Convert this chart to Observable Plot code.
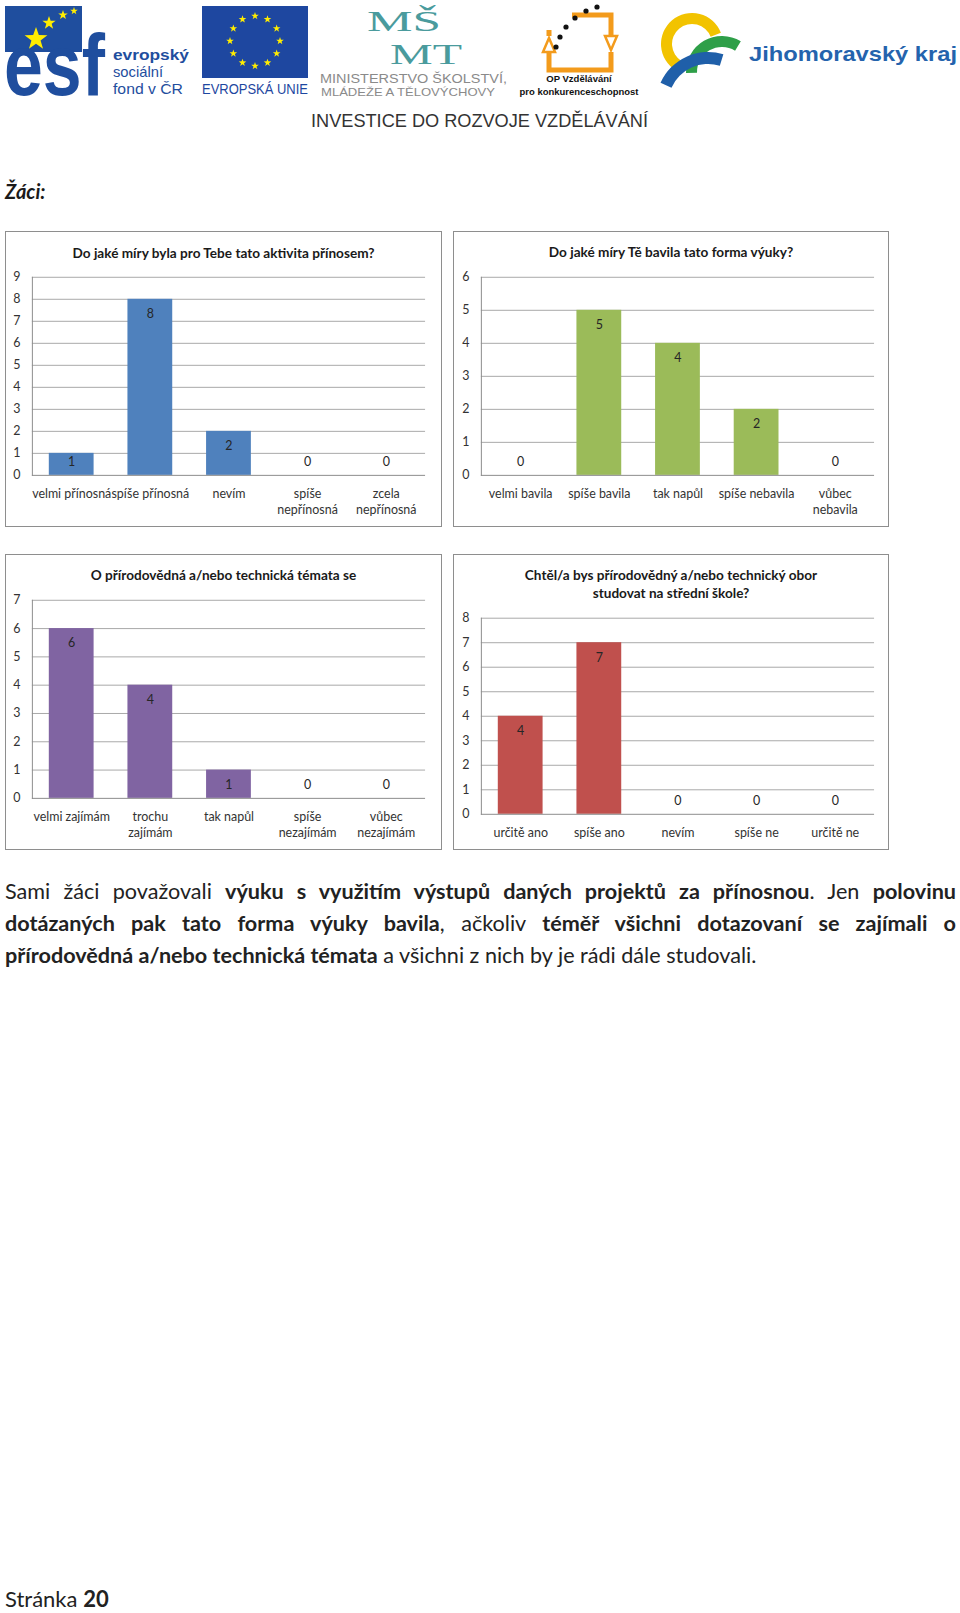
<!DOCTYPE html>
<html><head><meta charset="utf-8">
<script src="https://cdn.jsdelivr.net/npm/d3@7"></script>
<script src="https://cdn.jsdelivr.net/npm/@observablehq/plot@0.6"></script>
<style>
body{margin:0;background:#fff}
#page{position:relative;width:960px;height:1613px;overflow:hidden;font-family:Lato,'Open Sans',sans-serif;color:#1a1a1a;background:#fff}
.chart{position:absolute;box-sizing:border-box;border:1px solid #8e8e8e;background:#fff}
.chart svg{position:absolute;left:-1px;top:-1px}
.ctitle{position:absolute;left:0;right:0;text-align:center;font-weight:bold;font-size:13.6px;color:#1a1a1a;line-height:18px}
.line{position:absolute;left:5px;width:951px;font-size:21.6px;line-height:32px;white-space:nowrap;color:#222}
.just{text-align:justify;text-align-last:justify;white-space:normal}
#header{position:absolute;left:0;top:0}
</style></head>
<body>
<div id="page">
  <svg id="header" width="960" height="140"></svg>
  <div style="position:absolute;left:5px;top:177px;font-size:20px;line-height:28px;font-weight:bold;font-style:italic;">Žáci:</div>
  <div class="chart" id="c1" style="left:5px;top:231px;width:437px;height:296px"><div class="ctitle" style="top:12px">Do jaké míry byla pro Tebe tato aktivita přínosem?</div></div>
  <div class="chart" id="c2" style="left:453px;top:231px;width:436px;height:296px"><div class="ctitle" style="top:11px">Do jaké míry Tě bavila tato forma výuky?</div></div>
  <div class="chart" id="c3" style="left:5px;top:554px;width:437px;height:296px"><div class="ctitle" style="top:11px">O přírodovědná a/nebo technická témata se</div></div>
  <div class="chart" id="c4" style="left:453px;top:554px;width:436px;height:296px"><div class="ctitle" style="top:11px">Chtěl/a bys přírodovědný a/nebo technický obor<br>studovat na střední škole?</div></div>
  <div class="line just" style="top:875px">Sami žáci považovali <b>výuku s&nbsp;využitím výstupů daných projektů za přínosnou</b>. Jen <b>polovinu</b></div>
  <div class="line just" style="top:907px"><b>dotázaných pak tato forma výuky bavila</b>, ačkoliv <b>téměř všichni dotazovaní se zajímali o</b></div>
  <div class="line" style="top:939px"><b>přírodovědná a/nebo technická témata</b> a všichni z nich by je rádi dále studovali.</div>
  <div style="position:absolute;left:5px;top:1588px;font-size:22px;line-height:22px;color:#222">Stránka <b>20</b></div>
</div>
<script>
// ---- data ----
const cats1 = ["velmi přínosná", "spíše přínosná", "nevím", "spíše\nnepřínosná", "zcela\nnepřínosná"];
const vals1 = [1, 8, 2, 0, 0];
const cats2 = ["velmi bavila", "spíše bavila", "tak napůl", "spíše nebavila", "vůbec\nnebavila"];
const vals2 = [0, 5, 4, 2, 0];
const cats3 = ["velmi zajímám", "trochu\nzajímám", "tak napůl", "spíše\nnezajímám", "vůbec\nnezajímám"];
const vals3 = [6, 4, 1, 0, 0];
const cats4 = ["určitě ano", "spíše ano", "nevím", "spíše ne", "určitě ne"];
const vals4 = [4, 7, 0, 0, 0];
const yMax1 = 9, yMax2 = 6, yMax3 = 7, yMax4 = 8;

const FONT = "Lato, 'Open Sans', sans-serif";

function makeChart({id, cats, vals, color, ymax, w, h, ml, mr, mt, mb}) {
  const data = cats.map((c, i) => ({cat: c, val: vals[i]}));
  const unit = (h - mt - mb) / ymax;
  const tall = data.filter(d => d.val * unit >= 30);
  const short = data.filter(d => d.val * unit < 30);
  const ticks = d3.range(0, ymax + 1);
  const chart = Plot.plot({
    width: w, height: h, marginLeft: ml, marginRight: mr, marginTop: mt, marginBottom: mb,
    style: {fontFamily: FONT, fontSize: "12.5px", color: "#333", background: "transparent", overflow: "visible"},
    x: {domain: cats, paddingInner: 0.43, paddingOuter: 0.215, label: null, axis: null},
    y: {domain: [0, ymax], label: null, axis: null},
    marks: [
      Plot.gridY(ticks.slice(1), {stroke: "#a8a8a8", strokeOpacity: 1}),
      Plot.barY(data, {x: "cat", y: "val", fill: color}),
      Plot.ruleY([0], {stroke: "#8c8c8c"}),
      Plot.frame({anchor: "left", stroke: "#8c8c8c"}),
      Plot.text(tall, {x: "cat", y: "val", text: d => String(d.val), dy: 15, fill: "#262626"}),
      Plot.text(short, {x: "cat", y: 0, text: d => String(d.val), dy: -13, fill: "#262626"}),
      Plot.axisX({tickSize: 0, tickPadding: 11, lineHeight: 1.3, fill: "#333"}),
      Plot.axisY(ticks, {tickSize: 0, tickPadding: 12, fill: "#333"})
    ]
  });
  document.getElementById(id).appendChild(chart);
}

makeChart({id: "c1", cats: cats1, vals: vals1, color: "#4F81BD", ymax: yMax1, w: 437, h: 296, ml: 27, mr: 15, mt: 46, mb: 51});
makeChart({id: "c2", cats: cats2, vals: vals2, color: "#9BBB59", ymax: yMax2, w: 436, h: 296, ml: 28, mr: 13, mt: 46, mb: 51});
makeChart({id: "c3", cats: cats3, vals: vals3, color: "#8064A2", ymax: yMax3, w: 437, h: 296, ml: 27, mr: 15, mt: 46, mb: 51});
makeChart({id: "c4", cats: cats4, vals: vals4, color: "#C0504D", ymax: yMax4, w: 436, h: 296, ml: 28, mr: 13, mt: 64, mb: 35});

// ---- decorative header (logos) ----
const hdr = d3.select("#header");
function star(cx, cy, r) {
  const pts = [];
  for (let i = 0; i < 10; i++) {
    const a = -Math.PI / 2 + i * Math.PI / 5;
    const rr = i % 2 ? r * 0.4 : r;
    pts.push([cx + rr * Math.cos(a), cy + rr * Math.sin(a)]);
  }
  return pts.map(p => p.join(",")).join(" ");
}
const esfBlue = "#1F4E9E";
const sans = "'Liberation Sans', Arial, sans-serif";
// ESF
hdr.append("rect").attr("x", 5).attr("y", 6).attr("width", 77).attr("height", 46).attr("fill", esfBlue);
hdr.append("text").attr("transform", "translate(4,95) scale(0.97,1.22)").attr("font-family", sans)
  .attr("font-weight", "bold").attr("font-size", 72).attr("fill", esfBlue).text("esf");
[[36, 39, 12], [49, 23, 7], [63, 15, 5], [74, 11, 4]].forEach(([x, y, r]) =>
  hdr.append("polygon").attr("points", star(x, y, r)).attr("fill", "#FFED00"));
hdr.append("text").attr("x", 113).attr("y", 60).attr("font-family", sans).attr("font-weight", "bold").attr("font-size", 14.5).attr("fill", esfBlue)
  .attr("textLength", 76).attr("lengthAdjust", "spacingAndGlyphs").text("evropský");
hdr.append("text").attr("x", 113).attr("y", 77).attr("font-family", sans).attr("font-size", 14.5).attr("fill", esfBlue)
  .attr("textLength", 50).attr("lengthAdjust", "spacingAndGlyphs").text("sociální");
hdr.append("text").attr("x", 113).attr("y", 94).attr("font-family", sans).attr("font-size", 14.5).attr("fill", esfBlue)
  .attr("textLength", 70).attr("lengthAdjust", "spacingAndGlyphs").text("fond v ČR");
// EU flag
hdr.append("rect").attr("x", 202).attr("y", 6).attr("width", 106).attr("height", 72).attr("fill", "#1E47A0");
for (let i = 0; i < 12; i++) {
  const a = i * Math.PI / 6;
  hdr.append("polygon").attr("points", star(255 + 25 * Math.sin(a), 41 - 25 * Math.cos(a), 4)).attr("fill", "#FFED00");
}
hdr.append("text").attr("x", 202).attr("y", 94).attr("font-family", sans).attr("font-size", 14).attr("fill", "#1E47A0")
  .attr("textLength", 106).attr("lengthAdjust", "spacingAndGlyphs").text("EVROPSKÁ UNIE");
// MŠMT
const teal = "#4A9B9D";
const serif = "'Liberation Serif', serif";
hdr.append("text").attr("x", 367).attr("y", 31).attr("font-family", serif).attr("font-size", 30).attr("fill", teal)
  .attr("textLength", 74).attr("lengthAdjust", "spacingAndGlyphs").text("MŠ");
hdr.append("text").attr("x", 390).attr("y", 64).attr("font-family", serif).attr("font-size", 30).attr("fill", teal)
  .attr("textLength", 72).attr("lengthAdjust", "spacingAndGlyphs").text("MT");
hdr.append("text").attr("x", 320).attr("y", 83).attr("font-family", sans).attr("font-size", 12).attr("fill", "#8a8a8a")
  .attr("textLength", 187).attr("lengthAdjust", "spacingAndGlyphs").text("MINISTERSTVO ŠKOLSTVÍ,");
hdr.append("text").attr("x", 321).attr("y", 95.5).attr("font-family", sans).attr("font-size", 10.5).attr("fill", "#8a8a8a")
  .attr("textLength", 174).attr("lengthAdjust", "spacingAndGlyphs").text("MLÁDEŽE A TĚLOVÝCHOVY");
// OP
const orange = "#F39B1C";
hdr.append("path").attr("d", "M572 15 H611 V36 M611 52 V70 H549 V52 M549 36 V30").attr("fill", "none").attr("stroke", orange).attr("stroke-width", 5);
hdr.append("polygon").attr("points", "605,36 617,36 611,50").attr("fill", "#fff").attr("stroke", orange).attr("stroke-width", 2.5);
hdr.append("polygon").attr("points", "543,52 555,52 549,38").attr("fill", "#fff").attr("stroke", orange).attr("stroke-width", 2.5);
[[556, 47], [560, 37], [566, 27], [575, 18], [586, 11], [597, 7]].forEach(([x, y]) =>
  hdr.append("circle").attr("cx", x).attr("cy", y).attr("r", 2.6).attr("fill", "#111"));
hdr.append("text").attr("x", 579).attr("y", 82).attr("text-anchor", "middle").attr("font-family", sans).attr("font-weight", "bold").attr("font-size", 9.5).attr("fill", "#111").text("OP Vzdělávání");
hdr.append("text").attr("x", 579).attr("y", 95).attr("text-anchor", "middle").attr("font-family", sans).attr("font-weight", "bold").attr("font-size", 9.5).attr("fill", "#111")
  .attr("textLength", 119).attr("lengthAdjust", "spacingAndGlyphs").text("pro konkurenceschopnost");
// Jihomoravský kraj
const arc = d3.arc();
hdr.append("path").attr("transform", "translate(692,44)").attr("d", arc({innerRadius: 20, outerRadius: 31, startAngle: -2.6, endAngle: 1.2})).attr("fill", "#F2C300");
hdr.append("path").attr("transform", "translate(722,72)").attr("d", arc({innerRadius: 25, outerRadius: 36, startAngle: -1.6, endAngle: 0.55})).attr("fill", "#2E9F48");
hdr.append("path").attr("transform", "translate(708,104)").attr("d", arc({innerRadius: 40, outerRadius: 52, startAngle: -1.15, endAngle: 0.3})).attr("fill", "#1F5FA9");
hdr.append("text").attr("x", 749).attr("y", 61).attr("font-family", sans).attr("font-weight", "bold").attr("font-size", 21).attr("fill", "#2463AD")
  .attr("textLength", 208).attr("lengthAdjust", "spacingAndGlyphs").text("Jihomoravský kraj");
// Investice
hdr.append("text").attr("x", 311).attr("y", 127).attr("font-family", "'Liberation Sans Narrow', " + sans).attr("font-size", 19).attr("fill", "#333")
  .attr("textLength", 337).attr("lengthAdjust", "spacingAndGlyphs").text("INVESTICE DO ROZVOJE VZDĚLÁVÁNÍ");
</script>
</body></html>
